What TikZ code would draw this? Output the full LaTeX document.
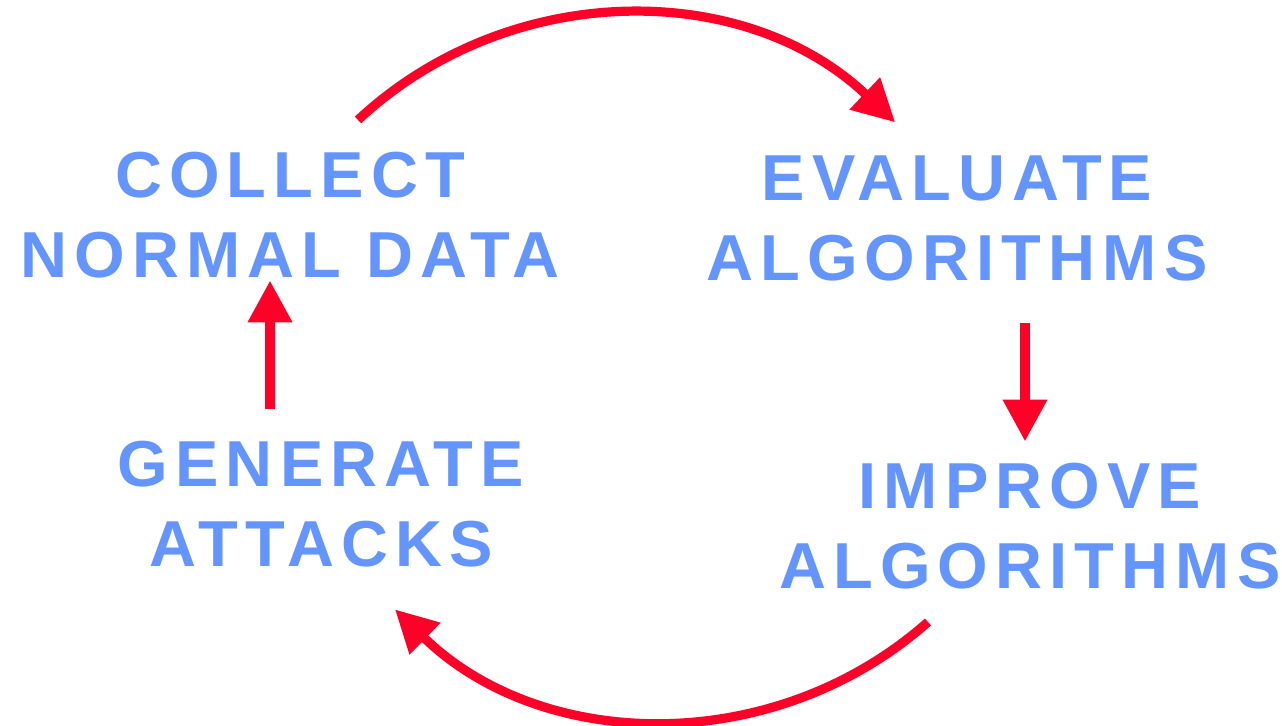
\documentclass[tikz,border=0pt]{standalone}
\usepackage{fontspec}
\setmainfont{Liberation Sans}
\newfontfamily\stagefont[LetterSpace=11]{Liberation Sans}
\usetikzlibrary{arrows.meta,calc}

\definecolor{stageblue}{RGB}{100,149,255}
\definecolor{cyclered}{RGB}{255,0,40}

\begin{document}
\begin{tikzpicture}[x=0.5pt,y=0.5pt,>={Triangle[length=21pt,width=21pt]}]
\tikzstyle{stage}=[align=center,inner sep=0pt,text=stageblue,font=\stagefont\bfseries\fontsize{32.5}{40}\selectfont]
\tikzstyle{bar}=[->,draw=cyclered,fill=cyclered,line width=5pt]
\tikzstyle{loop}=[-{Triangle[length=21pt,width=21pt]},draw=cyclered,line width=4.6pt]
\useasboundingbox (0,0) rectangle (1282,726);
% the four stages
\node[stage] (collect) at (290,511) {COLLECT\\NORMAL DATA};
\node[stage] (evaluate) at (957,508) {EVALUATE\\ALGORITHMS};
\node[stage] (improve) at (1030,200) {IMPROVE\\ALGORITHMS};
\node[stage] (generate) at (321,222) {GENERATE\\ATTACKS};
% straight steps
\draw[bar] ($(evaluate.south -| improve.north)+(-5,-42)$) -- ($(improve.north)+(-5,21)$);
\draw[bar] ($(generate.north)+(-51,32)$) -- ($(collect.south)+(-20,-2)$);
% curved steps
\coordinate (topstart) at (358,606);
\coordinate (botstart) at (928,104);
\draw[loop] (topstart) arc[start angle=133,end angle=46.5,radius=392];
\draw[loop] (botstart) arc[start angle=-48.5,end angle=-134.2,radius=392];
\end{tikzpicture}
\end{document}
